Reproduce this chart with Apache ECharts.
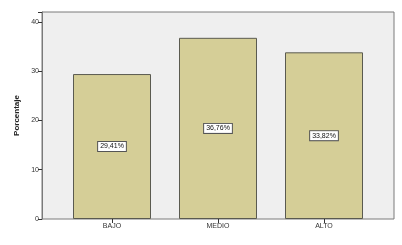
<!DOCTYPE html>
<html><head><meta charset="utf-8">
<script src="https://cdn.jsdelivr.net/npm/echarts@6/dist/echarts.min.js"></script>
<style>html,body{margin:0;padding:0;background:#fff}#c{width:402px;height:245px}</style>
</head><body><div id="c"></div>
<script>
var categories = ['BAJO', 'MEDIO', 'ALTO'];
var values = [29.41, 36.76, 33.82];
var yTicks = [0, 10, 20, 30, 40];

var chart = echarts.init(document.getElementById('c'), null, {renderer: 'canvas'});
var font = 'Liberation Sans';
chart.setOption({
  animation: false,
  backgroundColor: '#ffffff',
  grid: [
    {left: 42, right: 8, top: 12, bottom: 26, show: true, backgroundColor: '#efefef', borderColor: '#7a7a7a', borderWidth: 1, z: 0},
    {left: 59, right: 25, top: 12, bottom: 26, show: false}
  ],
  xAxis: [
    {gridIndex: 0, type: 'value', show: false, min: 0, max: 1},
    {gridIndex: 1, type: 'category', data: categories, boundaryGap: true,
     axisLine: {show: false},
     axisTick: {show: true, alignWithLabel: true, length: 4, lineStyle: {color: '#333'}},
     axisLabel: {color: '#333', fontSize: 7, fontFamily: font, margin: 4}}
  ],
  yAxis: [
    {gridIndex: 0, type: 'value', show: false, min: 0, max: 1},
    {gridIndex: 1, type: 'value', min: 0, max: 42, interval: 10, offset: 17,
     name: 'Porcentaje', nameLocation: 'middle', nameGap: 20,
     nameTextStyle: {color: '#222', fontSize: 8, fontWeight: 'bold', fontFamily: font},
     axisLine: {show: true, lineStyle: {color: '#7a7a7a'}},
     axisTick: {show: true, length: 4, lineStyle: {color: '#333'}},
     axisLabel: {color: '#333', fontSize: 7, fontFamily: font, margin: 3,
       formatter: function (v) { return yTicks.indexOf(v) >= 0 ? String(v) : ''; }},
     splitLine: {show: false}}
  ],
  series: [{
    type: 'bar', xAxisIndex: 1, yAxisIndex: 1, data: values, barWidth: 78,
    itemStyle: {color: '#d5ce97', borderColor: '#5a5a50', borderWidth: 1},
    label: {show: true, position: 'inside', fontSize: 7, fontFamily: font, color: '#111',
      backgroundColor: '#ffffff', borderColor: '#555', borderWidth: 1, padding: [1, 2],
      formatter: function (p) { return p.value.toFixed(2).replace('.', ',') + '%'; }}
  }]
});
</script></body></html>
